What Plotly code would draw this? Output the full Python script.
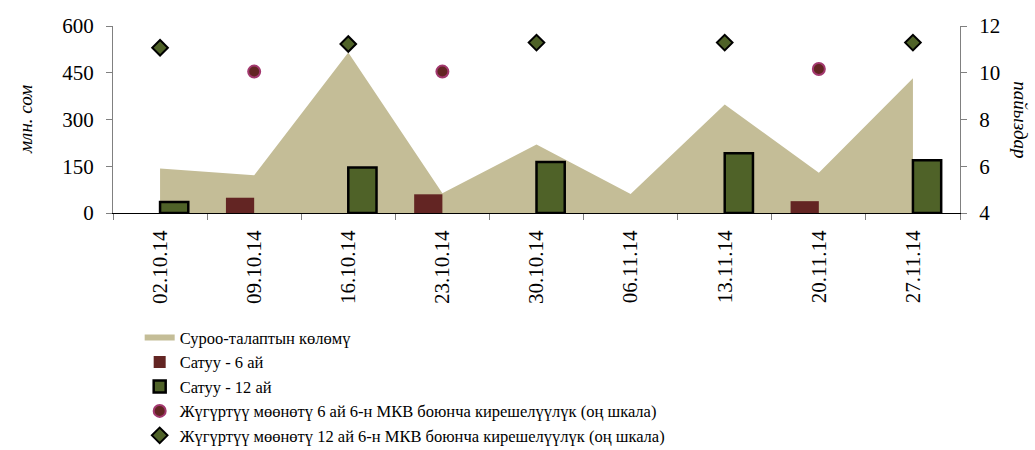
import plotly.graph_objects as go

dates = ["02.10.14", "09.10.14", "16.10.14", "23.10.14", "30.10.14",
         "06.11.14", "13.11.14", "20.11.14", "27.11.14"]
volume = [143, 121, 515, 63, 220, 61, 348, 129, 432]
sales_6m = [None, 49, None, 60, None, None, None, 38, None]
sales_12m = [35, None, 146, None, 164, None, 192, None, 169]
yield_6m = [None, 10.05, None, 10.05, None, None, None, 10.16, None]
yield_12m = [11.07, None, 11.23, None, 11.29, None, 11.29, None, 11.29]

names = ["Суроо-талаптын көлөмү", "Сатуу - 6 ай", "Сатуу - 12 ай",
         "Жүгүртүү мөөнөтү 6 ай 6-н МКВ боюнча кирешелүүлүк (оң шкала)",
         "Жүгүртүү мөөнөтү 12 ай 6-н МКВ боюнча кирешелүүлүк (оң шкала)"]

FONT = "Liberation Serif"

fig = go.Figure()
fig.add_trace(go.Scatter(x=dates, y=volume, name=names[0], mode="none",
                         fill="tozeroy", fillcolor="#C4BD97"))
fig.add_trace(go.Bar(x=dates, y=sales_6m, name=names[1], yaxis="y3",
                     marker=dict(color="#632523", line=dict(width=0))))
fig.add_trace(go.Bar(x=dates, y=sales_12m, name=names[2], yaxis="y3",
                     marker=dict(color="#4F6228", line=dict(width=2.5, color="black"))))
fig.add_trace(go.Scatter(x=dates, y=yield_6m, name=names[3], mode="markers", yaxis="y2",
                         marker=dict(symbol="circle", size=12, color="#632523",
                                     line=dict(width=2, color="#A3386F"))))
fig.add_trace(go.Scatter(x=dates, y=yield_12m, name=names[4], mode="markers", yaxis="y2",
                         marker=dict(symbol="diamond", size=12, color="#4F6228",
                                     line=dict(width=2, color="black"))))

fig.update_layout(
    width=1035, height=450,
    margin=dict(l=113, r=75, t=26, b=237, autoexpand=False),
    paper_bgcolor="white", plot_bgcolor="white",
    font=dict(family=FONT, size=21, color="black"),
    barmode="group", bargap=0.4, bargroupgap=0,
    showlegend=True,
    legend=dict(x=0.0315, y=-0.574, xanchor="left", yanchor="top",
                font=dict(family=FONT, size=16.5, color="black"),
                tracegroupgap=0, bgcolor="rgba(0,0,0,0)"),
    xaxis=dict(type="category", range=[-0.5, 8.5], tickangle=-90,
               tickson="boundaries", ticks="outside", ticklen=6, tickcolor="#808080",
               showline=True, linecolor="black", linewidth=1, showgrid=False,
               ticklabelstandoff=8, tickfont=dict(family=FONT, size=21)),
    yaxis=dict(range=[0, 600], tickvals=[0, 150, 300, 450, 600],
               ticks="outside", ticklen=6, tickcolor="#808080",
               showline=True, linecolor="#808080", linewidth=1, showgrid=False,
               zeroline=False, ticklabelstandoff=8, tickfont=dict(family=FONT, size=21)),
    yaxis2=dict(range=[4, 12], tickvals=[4, 6, 8, 10, 12], overlaying="y", side="right",
                ticks="outside", ticklen=6, tickcolor="#808080",
                showline=True, linecolor="#808080", linewidth=1, showgrid=False,
                zeroline=False, ticklabelstandoff=8, tickfont=dict(family=FONT, size=21)),
    yaxis3=dict(range=[0, 600], overlaying="y", visible=False),
    annotations=[
        dict(text="<i>млн. сом</i>", xref="paper", yref="paper", x=-0.1033, y=0.5,
             xanchor="center", yanchor="middle", textangle=-90, showarrow=False,
             font=dict(family=FONT, size=19)),
        dict(text="<i>пайыздар</i>", xref="paper", yref="paper", x=1.071, y=0.5,
             xanchor="center", yanchor="middle", textangle=90, showarrow=False,
             font=dict(family=FONT, size=19)),
    ],
)

fig.write_html("out.html", config={"displayModeBar": False},
               post_script="document.body.style.margin='0';")
